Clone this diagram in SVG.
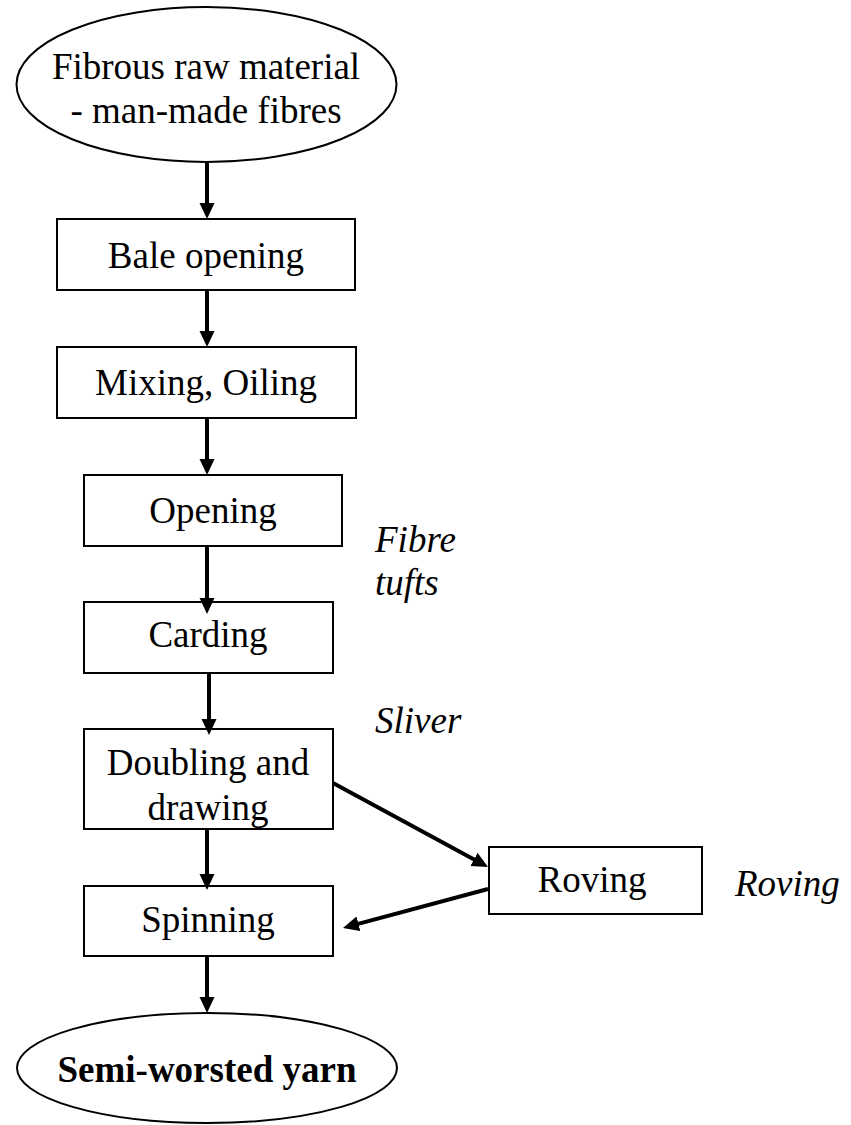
<svg xmlns="http://www.w3.org/2000/svg" width="851" height="1125" viewBox="0 0 851 1125">
<style>
.n{fill:#fff;stroke:#000;stroke-width:2}
.t{font-family:"Liberation Serif","Times New Roman",serif;font-size:37px;fill:#000;text-anchor:middle}
.b{font-weight:bold}
.i{font-family:"Liberation Serif","Times New Roman",serif;font-size:37px;font-style:italic;fill:#000}
.c{stroke:#000;stroke-width:4;fill:none;marker-end:url(#ah)}
</style>
<defs>
<marker id="ah" markerUnits="userSpaceOnUse" markerWidth="16" markerHeight="16" refX="8" refY="8" orient="auto">
<path d="M0,0.5 L16,8 L0,15.5 z" fill="#000"/>
</marker>
</defs>
<rect width="851" height="1125" fill="#fff"/>
<g id="n-raw">
<ellipse class="n" cx="206.5" cy="84.5" rx="190" ry="77.5"/>
<text class="t" x="206" y="79">Fibrous raw material</text>
<text class="t" x="206" y="123">- man-made fibres</text>
</g>
<g id="n-bale">
<rect class="n" x="57" y="219" width="298" height="71"/>
<text class="t" x="206" y="268">Bale opening</text>
</g>
<g id="n-mixing">
<rect class="n" x="57" y="347" width="299" height="71"/>
<text class="t" x="206" y="395">Mixing, Oiling</text>
</g>
<g id="n-opening">
<rect class="n" x="84" y="475" width="258" height="71"/>
<text class="t" x="213" y="523">Opening</text>
</g>
<g id="n-carding">
<rect class="n" x="84" y="602" width="249" height="71"/>
<text class="t" x="208" y="647">Carding</text>
</g>
<g id="n-doubling">
<rect class="n" x="84" y="729" width="249" height="100"/>
<text class="t" x="208" y="775">Doubling and</text>
<text class="t" x="208" y="820">drawing</text>
</g>
<g id="n-spinning">
<rect class="n" x="84" y="886" width="249" height="70"/>
<text class="t" x="208" y="932">Spinning</text>
</g>
<g id="n-roving">
<rect class="n" x="489" y="847" width="213" height="67"/>
<text class="t" x="592" y="892">Roving</text>
</g>
<g id="n-yarn">
<ellipse class="n" cx="207" cy="1068" rx="190" ry="55"/>
<text class="t b" x="207" y="1082">Semi-worsted yarn</text>
</g>
<g id="labels">
<text class="i" x="375" y="552">Fibre</text>
<text class="i" x="375" y="595">tufts</text>
<text class="i" x="375" y="733">Sliver</text>
<text class="i" x="735" y="896">Roving</text>
</g>
<g id="connectors">
<line class="c" x1="207" y1="162" x2="207" y2="211"/>
<line class="c" x1="207" y1="290" x2="207" y2="339"/>
<line class="c" x1="207" y1="418" x2="207" y2="467"/>
<line class="c" x1="207" y1="546" x2="207" y2="606"/>
<line class="c" x1="209" y1="673" x2="209" y2="727"/>
<line class="c" x1="207" y1="829" x2="207" y2="882"/>
<line class="c" x1="207" y1="956" x2="207" y2="1005"/>
<line class="c" x1="333" y1="783" x2="481" y2="863.2"/>
<line class="c" x1="488" y1="889" x2="350.7" y2="925.9"/>
</g>
</svg>
